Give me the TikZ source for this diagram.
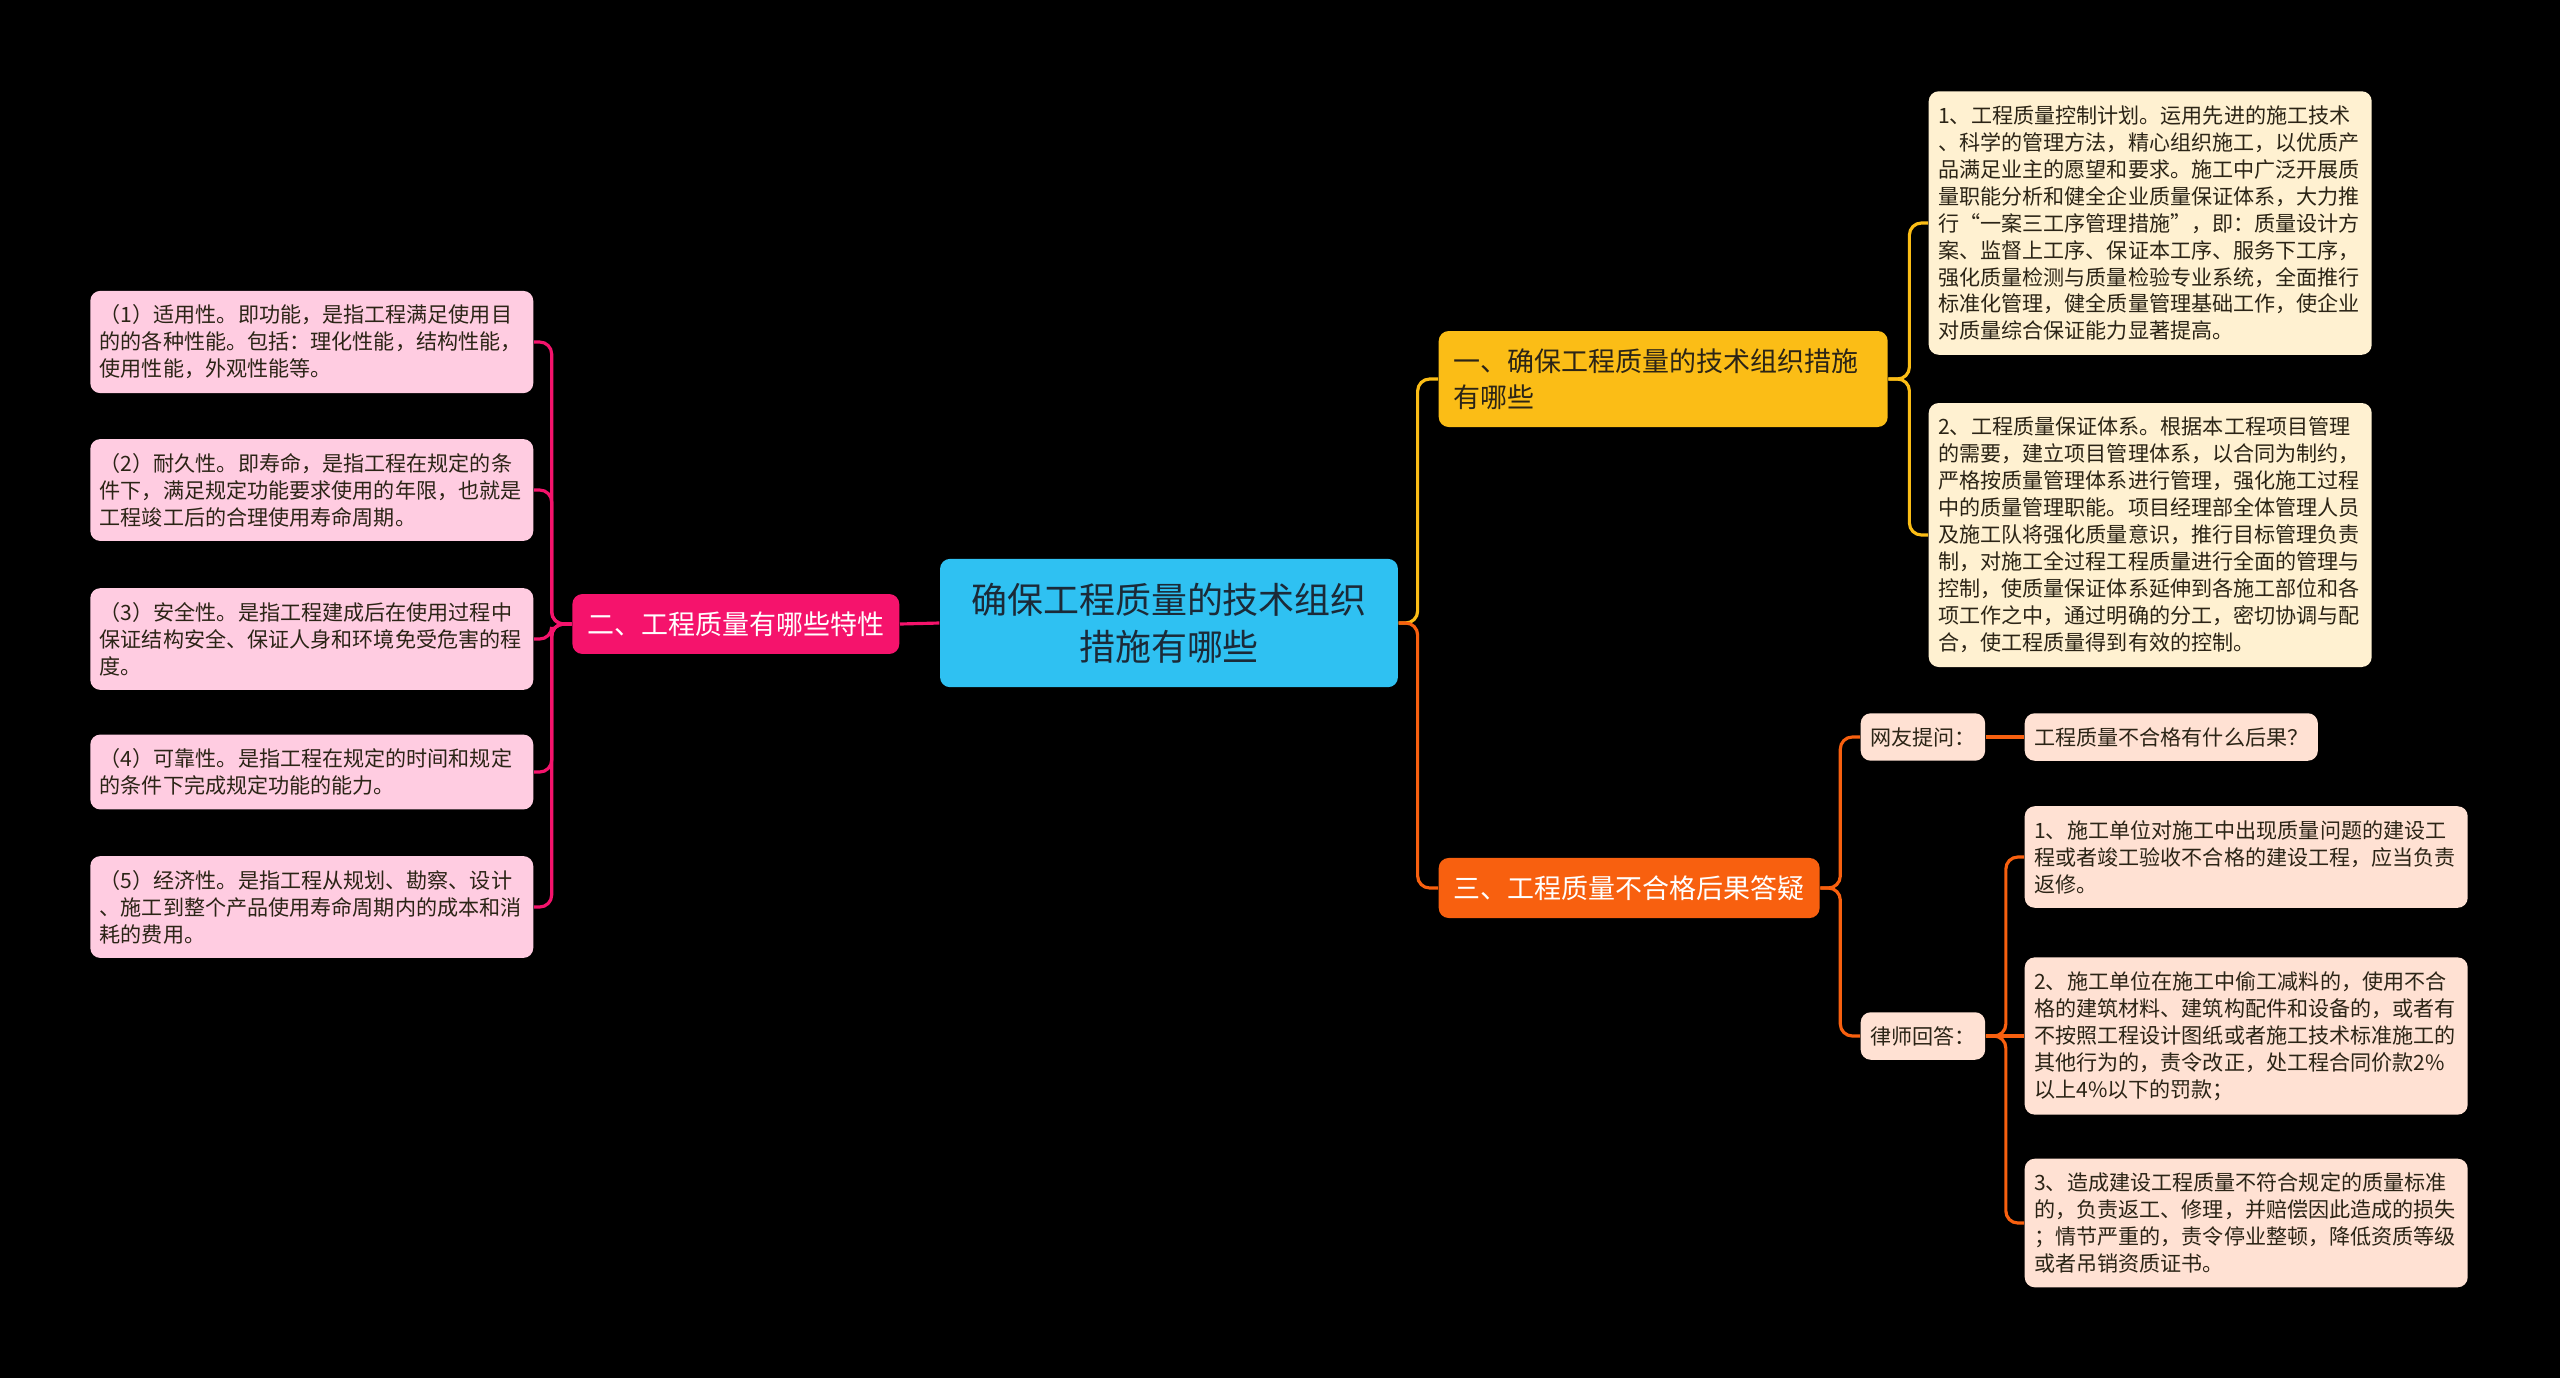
\documentclass[tikz,border=0pt]{standalone}
\usepackage{fontspec}
\usepackage{tikz}
\newfontfamily\cjk{Noto Sans CJK SC}
\definecolor{TitleBlue}{HTML}{2FC1F2}
\definecolor{BranchYellow}{HTML}{FBBD16}
\definecolor{BranchPink}{HTML}{F5136C}
\definecolor{BranchOrange}{HTML}{F8600F}
\definecolor{LeafYellow}{HTML}{FFF1D1}
\definecolor{LeafPink}{HTML}{FFCCE1}
\definecolor{LeafOrange}{HTML}{FFE1D3}
\definecolor{InkDark}{HTML}{2B2416}
\definecolor{InkTitle}{HTML}{1B2A38}

\begin{document}
\begin{tikzpicture}[x=0.1mm, y=-0.1mm,
  titlebox/.style={fill=TitleBlue, text=InkTitle, rounded corners=0.1cm, align=center,
    font=\cjk\fontsize{10.24pt}{13.37pt}\selectfont, inner xsep=0.31cm, inner ysep=0.24cm},
  branchbox/.style={rounded corners=0.1cm, align=left,
    font=\cjk\fontsize{7.68pt}{10.24pt}\selectfont, inner xsep=0.15cm, inner ysep=0.175cm},
  smallbox/.style={rounded corners=0.1cm, align=left, text=InkDark,
    font=\cjk\fontsize{6pt}{7.68pt}\selectfont, inner xsep=0.095cm, inner ysep=0.14cm},
  leafbox/.style={smallbox, text width=4.24cm},
  link/.style={line width=0.9pt, rounded corners=0.12cm},
  linkpink/.style={link, BranchPink},
  linkyellow/.style={link, BranchYellow},
  linkorange/.style={link, BranchOrange}]

% Background
\fill[black] (0,0) rectangle (2560,1378);
\useasboundingbox (0,0) rectangle (2560,1378);

% Central topic
\node[titlebox] (root) at (1169,623) {确保工程质量的技术组织\\措施有哪些};

% Main branches
\node[branchbox, fill=BranchYellow, text=InkDark, text width=4.19cm, anchor=west] (one) at (1438,379) {一、确保工程质量的技术组织措施\\有哪些};
\node[branchbox, fill=BranchPink, text=white, anchor=east] (two) at (900,624) {二、工程质量有哪些特性};
\node[branchbox, fill=BranchOrange, text=white, anchor=west] (three) at (1438,888) {三、工程质量不合格后果答疑};

% Branch one: measures
\node[leafbox, fill=LeafYellow, anchor=west] (y1) at (1928,223) {1、工程质量控制计划。运用先进的施工技术\\、科学的管理方法，精心组织施工，以优质产\\品满足业主的愿望和要求。施工中广泛开展质\\量职能分析和健全企业质量保证体系，大力推\\行“一案三工序管理措施”，即：质量设计方\\案、监督上工序、保证本工序、服务下工序，\\强化质量检测与质量检验专业系统，全面推行\\标准化管理，健全质量管理基础工作，使企业\\对质量综合保证能力显著提高。};
\node[leafbox, fill=LeafYellow, anchor=west] (y2) at (1928,535) {2、工程质量保证体系。根据本工程项目管理\\的需要，建立项目管理体系，以合同为制约，\\严格按质量管理体系进行管理，强化施工过程\\中的质量管理职能。项目经理部全体管理人员\\及施工队将强化质量意识，推行目标管理负责\\制，对施工全过程工程质量进行全面的管理与\\控制，使质量保证体系延伸到各施工部位和各\\项工作之中，通过明确的分工，密切协调与配\\合，使工程质量得到有效的控制。};

% Branch two: properties
\node[leafbox, fill=LeafPink, anchor=east] (p1) at (534,342) {（1）适用性。即功能，是指工程满足使用目\\的的各种性能。包括：理化性能，结构性能，\\使用性能，外观性能等。};
\node[leafbox, fill=LeafPink, anchor=east] (p2) at (534,490) {（2）耐久性。即寿命，是指工程在规定的条\\件下，满足规定功能要求使用的年限，也就是\\工程竣工后的合理使用寿命周期。};
\node[leafbox, fill=LeafPink, anchor=east] (p3) at (534,639) {（3）安全性。是指工程建成后在使用过程中\\保证结构安全、保证人身和环境免受危害的程\\度。};
\node[leafbox, fill=LeafPink, anchor=east] (p4) at (534,772) {（4）可靠性。是指工程在规定的时间和规定\\的条件下完成规定功能的能力。};
\node[leafbox, fill=LeafPink, anchor=east] (p5) at (534,907) {（5）经济性。是指工程从规划、勘察、设计\\、施工到整个产品使用寿命周期内的成本和消\\耗的费用。};

% Branch three: question and answers
\node[smallbox, fill=LeafOrange, anchor=west] (ask) at (1860,737) {网友提问：};
\node[smallbox, fill=LeafOrange, anchor=west] (askq) at (2024,737) {工程质量不合格有什么后果？};
\node[smallbox, fill=LeafOrange, anchor=west] (lawyer) at (1860,1036) {律师回答：};
\node[leafbox, fill=LeafOrange, anchor=west] (a1) at (2024,857) {1、施工单位对施工中出现质量问题的建设工\\程或者竣工验收不合格的建设工程，应当负责\\返修。};
\node[leafbox, fill=LeafOrange, anchor=west] (a2) at (2024,1036) {2、施工单位在施工中偷工减料的，使用不合\\格的建筑材料、建筑构配件和设备的，或者有\\不按照工程设计图纸或者施工技术标准施工的\\其他行为的，责令改正，处工程合同价款2\%\\以上4\%以下的罚款；};
\node[leafbox, fill=LeafOrange, anchor=west] (a3) at (2024,1223) {3、造成建设工程质量不符合规定的质量标准\\的，负责返工、修理，并赔偿因此造成的损失\\；情节严重的，责令停业整顿，降低资质等级\\或者吊销资质证书。};

% Connectors from the centre
\draw[linkpink] (root.west) -- (two.east);
\draw[linkyellow] (root.east) -- ++(19,0) |- (one.west);
\draw[linkorange] (root.east) -- ++(19,0) |- (three.west);

% Connectors, left side
\draw[linkpink] (two.west) -- ++(-20,0) |- (p1.east);
\draw[linkpink] (two.west) -- ++(-20,0) |- (p2.east);
\draw[linkpink] (two.west) -- ++(-20,0) |- (p3.east);
\draw[linkpink] (two.west) -- ++(-20,0) |- (p4.east);
\draw[linkpink] (two.west) -- ++(-20,0) |- (p5.east);

% Connectors, right side
\draw[linkyellow] (one.east) -- ++(21,0) |- (y1.west);
\draw[linkyellow] (one.east) -- ++(21,0) |- (y2.west);
\draw[linkorange] (three.east) -- ++(20,0) |- (ask.west);
\draw[linkorange] (three.east) -- ++(20,0) |- (lawyer.west);
\draw[linkorange] (ask.east) -- (askq.west);
\draw[linkorange] (lawyer.east) -- ++(20,0) |- (a1.west);
\draw[linkorange] (lawyer.east) -- (a2.west);
\draw[linkorange] (lawyer.east) -- ++(20,0) |- (a3.west);
\end{tikzpicture}
\end{document}
